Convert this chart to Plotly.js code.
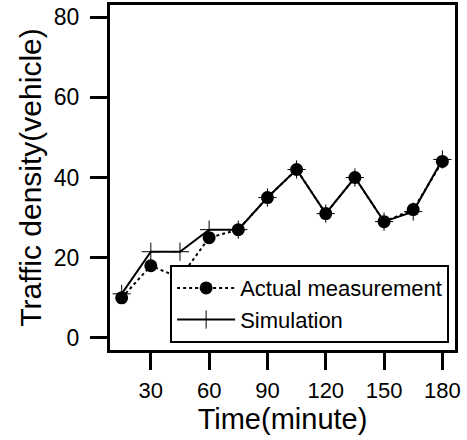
<!DOCTYPE html>
<html>
<head>
<meta charset="utf-8">
<script src="https://cdn.plot.ly/plotly-3.0.1.min.js"></script>
<style>html,body{margin:0;padding:0;background:#fff;}#chart{width:467px;height:440px;}</style>
</head>
<body>
<div id="chart"></div>
<script>
var timeMinutes = [15, 30, 45, 60, 75, 90, 105, 120, 135, 150, 165, 180];
var actualMeasurement = [10, 18, 15, 25, 27, 35, 42, 31, 40, 29, 32, 44];
var simulation = [11, 21.5, 21.5, 27, 27, 35, 42, 31, 40, 29, 31.5, 44.5];
var xTicks = [30, 60, 90, 120, 150, 180];
var yTicks = [0, 20, 40, 60, 80];

var font = "Liberation Sans, Arial, sans-serif";

var traces = [
  {
    x: timeMinutes, y: simulation, name: "Simulation", legendrank: 2,
    type: "scatter", mode: "lines+markers",
    line: {color: "#000", width: 2},
    marker: {symbol: "cross-thin", size: 13, color: "#000", line: {color: "#000", width: 1}}
  },
  {
    x: timeMinutes, y: actualMeasurement, name: "Actual measurement", legendrank: 1,
    type: "scatter", mode: "lines+markers",
    line: {color: "#000", width: 2, dash: "dot"},
    marker: {symbol: "circle", size: 13, color: "#000"}
  }
];

var layout = {
  width: 467, height: 440,
  margin: {l: 110, r: 12, t: 5, b: 90},
  paper_bgcolor: "#fff", plot_bgcolor: "#fff",
  font: {family: font, color: "#000"},
  showlegend: true,
  legend: {
    x: 0.983, y: 0.02, xanchor: "right", yanchor: "bottom",
    bgcolor: "#fff", bordercolor: "#000", borderwidth: 2,
    font: {family: font, size: 22, color: "#000"},
    itemwidth: 58,
    tracegroupgap: 0
  },
  xaxis: {
    range: [9, 186.5], tickvals: xTicks, ticktext: xTicks.map(String),
    showgrid: false, zeroline: false,
    showline: true, mirror: true, linecolor: "#000", linewidth: 3,
    ticks: "outside", ticklen: 17, tickwidth: 3, tickcolor: "#000",
    ticklabelstandoff: 2,
    tickfont: {family: font, size: 22, color: "#000"},
    title: {text: "Time(minute)", font: {family: font, size: 29, color: "#000"}, standoff: 0}
  },
  yaxis: {
    range: [-3, 83], tickvals: yTicks, ticktext: yTicks.map(String),
    showgrid: false, zeroline: false,
    showline: true, mirror: true, linecolor: "#000", linewidth: 3,
    ticks: "outside", ticklen: 17, tickwidth: 3, tickcolor: "#000",
    ticklabelstandoff: 6,
    tickfont: {family: font, size: 23, color: "#000"},
    title: {text: "Traffic density(vehicle)", font: {family: font, size: 30, color: "#000"}, standoff: 4}
  }
};

Plotly.newPlot("chart", traces, layout, {displayModeBar: false, staticPlot: true});
</script>
</body>
</html>
